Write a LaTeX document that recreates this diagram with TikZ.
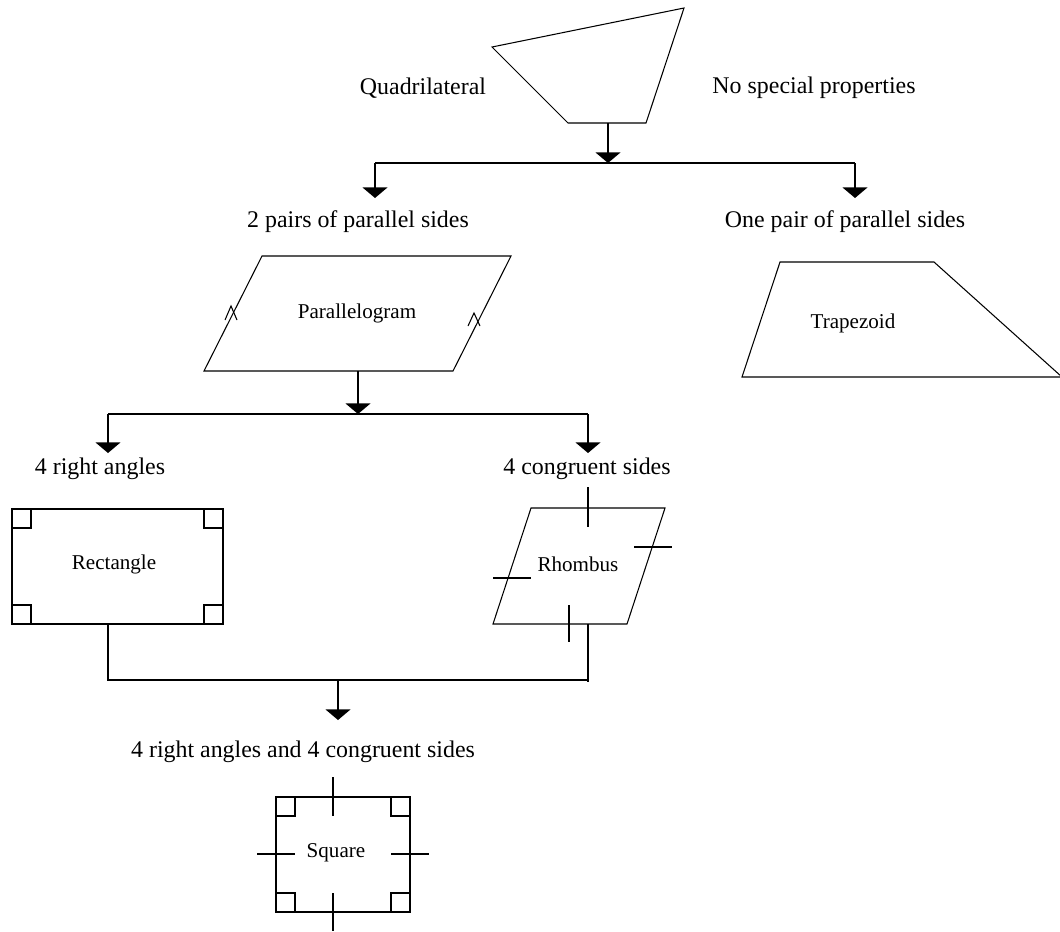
\documentclass[tikz,border=0pt]{standalone}
\usepackage{fontspec}
\setmainfont{Liberation Serif}
\usetikzlibrary{arrows.meta}
\begin{document}
\begin{tikzpicture}[x=0.02cm,y=-0.02cm,
  shp/.style={draw, line width=0.6pt, line join=miter},
  thin/.style={line width=0.6pt},
  arr/.style={line width=1.1pt, -{Triangle[width=14pt,length=6pt]}},
  big/.style={font=\fontsize{13.6}{16}\selectfont, inner sep=0pt},
  small/.style={font=\fontsize{12}{14}\selectfont, inner sep=0pt}]
\useasboundingbox (0,0) rectangle (1060,931);

% ---- top quadrilateral
\draw[shp] (492,47) -- (684,8) -- (646,123) -- (568,123) -- cycle;
\node[big] (lquad) at (423,88) {Quadrilateral};
\node[big] (lnone) at (814,88) {No special properties};
\coordinate (qb) at (608,123);
\coordinate (j1) at (608,163);
\coordinate (j1l) at (375,163);
\coordinate (j1r) at (855,163);
\coordinate (t1l) at (375,198);
\coordinate (t1r) at (855,198);
\draw[arr] (qb) -- (j1);
\draw[thin] (j1l) -- (j1r);
\draw[arr] (j1l) -- (t1l);
\draw[arr] (j1r) -- (t1r);
\node[big] (l2p) at (358,222) {2 pairs of parallel sides};
\node[big] (l1p) at (845,222) {One pair of parallel sides};

% ---- parallelogram
\draw[shp] (262,256) -- (511,256) -- (453,371) -- (204,371) -- cycle;
\draw[thin] (225,320) -- (231,306) -- (237,320);
\draw[thin] (468,326) -- (474,313) -- (480,326);
\node[small] (lpar) at (357,313) {Parallelogram};

% ---- trapezoid
\draw[shp] (780,262) -- (934,262) -- (1062,377) -- (742,377) -- cycle;
\node[small] (ltrap) at (853,323) {Trapezoid};

% ---- second level
\coordinate (pb) at (358,371);
\coordinate (j2) at (358,414);
\coordinate (j2l) at (108,414);
\coordinate (j2r) at (588,414);
\coordinate (t2l) at (108,453);
\coordinate (t2r) at (588,453);
\draw[arr] (pb) -- (j2);
\draw[thin] (j2l) -- (j2r);
\draw[arr] (j2l) -- (t2l);
\draw[arr] (j2r) -- (t2r);
\node[big] (l4r) at (100,469) {4 right angles};
\node[big] (l4c) at (587,469) {4 congruent sides};

% ---- rectangle
\draw[shp] (12,509) rectangle (223,624);
\draw[thin] (12,528) -- (31,528) -- (31,509);
\draw[thin] (204,509) -- (204,528) -- (223,528);
\draw[thin] (12,605) -- (31,605) -- (31,624);
\draw[thin] (204,624) -- (204,605) -- (223,605);
\node[small] (lrect) at (114,564) {Rectangle};

% ---- rhombus
\draw[shp] (531,508) -- (665,508) -- (627,624) -- (493,624) -- cycle;
\draw[thin] (588,487) -- (588,527);
\draw[thin] (634,547) -- (672,547);
\draw[thin] (493,578) -- (531,578);
\draw[thin] (569,605) -- (569,642);
\node[small] (lrho) at (578,564) {Rhombus};

% ---- join to square
\coordinate (rb) at (108,624);
\coordinate (hb) at (588,624);
\coordinate (j3l) at (108,680);
\coordinate (j3r) at (588,680);
\coordinate (j3) at (338,680);
\coordinate (t3) at (338,720);
\draw[thin] (rb) -- (j3l) -- (j3r) -- (hb);
\draw[thin] (j3r) -- ++(0,2);
\draw[arr] (j3) -- (t3);
\node[big] (lboth) at (303,752) {4 right angles and 4 congruent sides};

% ---- square
\draw[shp] (276,797) rectangle (410,912);
\draw[thin] (276,816) -- (295,816) -- (295,797);
\draw[thin] (391,797) -- (391,816) -- (410,816);
\draw[thin] (276,893) -- (295,893) -- (295,912);
\draw[thin] (391,912) -- (391,893) -- (410,893);
\draw[thin] (333,777) -- (333,816);
\draw[thin] (333,893) -- (333,931);
\draw[thin] (257,854) -- (295,854);
\draw[thin] (391,854) -- (429,854);
\node[small] (lsq) at (336,853) {Square};
\end{tikzpicture}
\end{document}
